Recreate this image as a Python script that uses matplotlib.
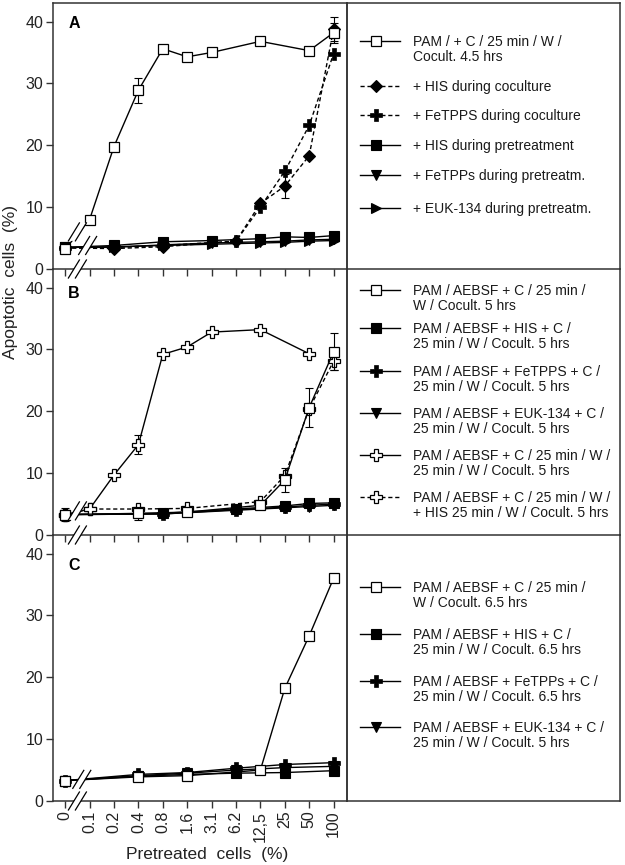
import numpy as np
import matplotlib
matplotlib.use("Agg")
import matplotlib.pyplot as plt

plt.rcParams['font.family'] = ['Liberation Sans', 'DejaVu Sans']

x_labels = ['0', '0.1', '0.2', '0.4', '0.8', '1.6', '3.1', '6.2', '12,5', '25', '50', '100']
pos = {lab: i for i, lab in enumerate(x_labels)}

# ---- panel A
a_ctrl_x = ['0', '0.1', '0.2', '0.4', '0.8', '1.6', '3.1', '12,5', '50', '100']
a_ctrl_y = [3.2, 8.0, 19.8, 28.9, 35.6, 34.3, 35.0, 36.8, 35.3, 38.2]
a_ctrl_err = [0, 0, 0, 2.0, 0, 0, 0, 0, 0, 1.6]
a_coc_x = ['0', '0.2', '0.8', '6.2', '12,5', '25', '50', '100']
a_his_coc_y = [3.4, 3.3, 3.6, 4.5, 10.6, 13.4, 18.3, 38.8]
a_his_coc_err = [0, 0, 0, 0, 0, 1.9, 0, 2.0]
a_fe_coc_y = [3.4, 3.5, 3.8, 4.5, 10.0, 15.8, 23.2, 34.8]
a_pre_x = ['0', '0.2', '0.8', '3.1', '12,5', '25', '50', '100']
a_his_pre_y = [3.5, 3.8, 4.4, 4.6, 4.9, 5.2, 5.1, 5.4]
a_fe_pre_y = [3.5, 3.5, 3.9, 4.2, 4.4, 4.5, 4.7, 4.8]
a_euk_pre_y = [3.5, 3.6, 3.8, 4.0, 4.2, 4.3, 4.5, 4.6]

# ---- panel B
b_ctrl_x = ['0', '0.4', '1.6', '12,5', '25', '50', '100']
b_ctrl_y = [3.3, 3.5, 3.7, 4.8, 8.9, 20.6, 29.6]
b_ctrl_err = [1.1, 1.1, 0.6, 0.6, 1.9, 3.2, 3.0]
b_inh_x = ['0', '0.8', '6.2', '25', '50', '100']
b_his_y = [3.3, 3.5, 4.2, 4.7, 5.1, 5.2]
b_fe_y = [3.3, 3.4, 4.1, 4.5, 4.8, 5.0]
b_euk_y = [3.3, 3.4, 4.0, 4.4, 4.6, 4.8]
b_wc_x = ['0', '0.1', '0.2', '0.4', '0.8', '1.6', '3.1', '12,5', '50']
b_wc_y = [3.3, 4.2, 9.7, 14.6, 29.2, 30.4, 32.8, 33.2, 29.3]
b_wc_err = [0, 0, 0, 1.5, 0, 0, 0, 0, 0]
b_wch_x = ['0', '0.1', '0.4', '1.6', '12,5', '25', '50', '100']
b_wch_y = [3.3, 4.2, 4.2, 4.3, 5.4, 9.6, 20.4, 28.1]
b_wch_err = [0, 0, 0, 0, 0, 0, 0, 1.5]

# ---- panel C
c_ctrl_x = ['0', '0.4', '1.6', '12,5', '25', '50', '100']
c_ctrl_y = [3.3, 3.9, 4.1, 5.0, 18.2, 26.7, 36.0]
c_inh_x = ['0', '0.4', '1.6', '6.2', '25', '100']
c_his_y = [3.3, 4.0, 4.3, 4.5, 4.6, 4.9]
c_fe_y = [3.3, 4.3, 4.6, 5.3, 5.9, 6.2]
c_euk_y = [3.3, 4.1, 4.5, 5.0, 5.4, 5.6]

legend_a = [('PAM / + C / 25 min / W /\nCocult. 4.5 hrs', 'wsq', '-'),
            ('+ HIS during coculture', 'dia', '--'),
            ('+ FeTPPS during coculture', 'crs', '--'),
            ('+ HIS during pretreatment', 'bsq', '-'),
            ('+ FeTPPs during pretreatm.', 'dtri', '-'),
            ('+ EUK-134 during pretreatm.', 'rtri', '-')]
legend_b = [('PAM / AEBSF + C / 25 min /\nW / Cocult. 5 hrs', 'wsq', '-'),
            ('PAM / AEBSF + HIS + C /\n25 min / W / Cocult. 5 hrs', 'bsq', '-'),
            ('PAM / AEBSF + FeTPPS + C /\n25 min / W / Cocult. 5 hrs', 'crs', '-'),
            ('PAM / AEBSF + EUK-134 + C /\n25 min / W / Cocult. 5 hrs', 'dtri', '-'),
            ('PAM / AEBSF + C / 25 min / W /\n25 min / W / Cocult. 5 hrs', 'wcrs', '-'),
            ('PAM / AEBSF + C / 25 min / W /\n+ HIS 25 min / W / Cocult. 5 hrs', 'wcrs', '--')]
legend_c = [('PAM / AEBSF + C / 25 min /\nW / Cocult. 6.5 hrs', 'wsq', '-'),
            ('PAM / AEBSF + HIS + C /\n25 min / W / Cocult. 6.5 hrs', 'bsq', '-'),
            ('PAM / AEBSF + FeTPPs + C /\n25 min / W / Cocult. 6.5 hrs', 'crs', '-'),
            ('PAM / AEBSF + EUK-134 + C /\n25 min / W / Cocult. 5 hrs', 'dtri', '-')]

MK = {
    'wsq': dict(marker='s', ms=7.5, mfc='white', mec='k', mew=0.9),
    'bsq': dict(marker='s', ms=7, mfc='k', mec='k', mew=0.8),
    'dia': dict(marker='D', ms=6.5, mfc='k', mec='k', mew=0.8),
    'crs': dict(marker='P', ms=8.5, mfc='k', mec='k', mew=0.5),
    'dtri': dict(marker='v', ms=7.5, mfc='k', mec='k', mew=0.8),
    'rtri': dict(marker='>', ms=7.5, mfc='k', mec='k', mew=0.8),
    'wcrs': dict(marker='P', ms=9, mfc='white', mec='k', mew=0.9),
}
DASH = (0, (3, 2))
SPINE = '#333333'


def series(ax, xs, ys, kind, ls='-', err=None, z=3):
    xx = [pos[v] for v in xs]
    style = DASH if ls == '--' else '-'
    if err is not None:
        e = np.array(err, dtype=float)
        m = e > 0
        ax.errorbar(np.array(xx)[m], np.array(ys)[m], yerr=e[m], fmt='none',
                    ecolor='k', elinewidth=0.8, capsize=3, capthick=0.8, zorder=z - 0.5)
    ax.plot(xx, ys, color='k', lw=1.0, linestyle=style, zorder=z, **MK[kind])


def brk(ax, xc, yc, gap=3.5, clip=True):
    cx, cy = ax.transData.transform((xc, yc))
    inv = ax.transData.inverted()
    dx, dy = 5.5, 9.0
    poly = inv.transform([(cx - gap - dx, cy - dy), (cx - gap + dx, cy + dy),
                          (cx + gap + dx, cy + dy), (cx + gap - dx, cy - dy)])
    ax.fill(poly[:, 0], poly[:, 1], color='white', zorder=8, clip_on=clip, lw=0)
    for k in (-1, 1):
        seg = inv.transform([(cx + k * gap - dx, cy - dy), (cx + k * gap + dx, cy + dy)])
        ax.plot(seg[:, 0], seg[:, 1], color='k', lw=0.9, zorder=9, clip_on=clip)


def legend(lax, entries, ys):
    lax.set_xlim(0, 273)
    lax.set_ylim(266, 0)
    lax.set_xticks([])
    lax.set_yticks([])
    for (txt, kind, ls), y in zip(entries, ys):
        style = DASH if ls == '--' else '-'
        lax.plot([13, 53], [y - 2, y - 2], color='k', lw=1.0, linestyle=style)
        lax.plot([29], [y - 2], linestyle='none', **MK[kind])
        lax.text(66, y - 8, txt, fontsize=10, va='top', ha='left',
                 linespacing=1.12, color='#1a1a1a')


fig = plt.figure(figsize=(6.25, 8.65), dpi=100)
W, H = 625, 865
L, R, LR = 53, 347, 620
tops = [3, 269, 535]
hp = 266
axes = []
laxes = []
for i, t in enumerate(tops):
    ax = fig.add_axes([L / W, 1 - (t + hp) / H, (R - L) / W, hp / H])
    lax = fig.add_axes([R / W, 1 - (t + hp) / H, (LR - R) / W, hp / H])
    for a in (ax, lax):
        a.patch.set_visible(False)
        for s in a.spines.values():
            s.set_color(SPINE)
            s.set_linewidth(1.1)
        if i > 0:
            a.spines['top'].set_visible(False)
    ax.set_xlim(-0.5, 11.55)
    ax.set_ylim(0, 43)
    ax.set_xticks(range(len(x_labels)))
    ax.set_yticks([0, 10, 20, 30, 40])
    ax.tick_params(direction='out', length=5, width=1, color=SPINE,
                   labelsize=11.5, labelcolor='#222222', pad=2)
    if i < 2:
        ax.set_xticklabels([])
    else:
        ax.set_xticklabels(x_labels, rotation=90)
    axes.append(ax)
    laxes.append(lax)

axA, axB, axC = axes

# panel A
series(axA, a_pre_x, a_euk_pre_y, 'rtri')
series(axA, a_pre_x, a_fe_pre_y, 'dtri')
series(axA, a_pre_x, a_his_pre_y, 'bsq')
series(axA, a_coc_x, a_fe_coc_y, 'crs', '--')
series(axA, a_coc_x, a_his_coc_y, 'dia', '--', err=a_his_coc_err)
series(axA, a_ctrl_x, a_ctrl_y, 'wsq', err=a_ctrl_err, z=5)

# panel B
series(axB, b_inh_x, b_euk_y, 'dtri')
series(axB, b_inh_x, b_fe_y, 'crs')
series(axB, b_inh_x, b_his_y, 'bsq')
series(axB, b_wch_x, b_wch_y, 'wcrs', '--', err=b_wch_err)
series(axB, b_wc_x, b_wc_y, 'wcrs', err=b_wc_err)
series(axB, b_ctrl_x, b_ctrl_y, 'wsq', err=b_ctrl_err, z=5)

# panel C
series(axC, c_inh_x, c_his_y, 'bsq')
series(axC, c_inh_x, c_euk_y, 'dtri')
series(axC, c_inh_x, c_fe_y, 'crs')
series(axC, c_ctrl_x, c_ctrl_y, 'wsq', z=5)

# axis breaks
brk(axA, 0.5, 6.0)
brk(axA, 0.92, 3.8)
brk(axB, 0.5, 3.9)
brk(axC, 0.68, 3.5)
for ax in axes:
    brk(ax, 0.5, 0, clip=False)

for ax, lab, yy in zip(axes, ['A', 'B', 'C'], [20, 25, 30]):
    ax.text(0.052, 1 - yy / hp, lab, transform=ax.transAxes, fontsize=11.5,
            fontweight='bold', va='center', ha='left')

legend(laxes[0], legend_a, [40, 85, 114, 144, 174, 207])
legend(laxes[1], legend_b, [23, 61, 104, 146, 188, 230])
legend(laxes[2], legend_c, [54, 101, 148, 194])

fig.text(11 / W, 1 - 282 / H, 'Apoptotic  cells  (%)', rotation=90, fontsize=12.5,
         ha='center', va='center', color='#222222')
fig.text(207 / W, 1 - 855 / H, 'Pretreated  cells  (%)', fontsize=12.5,
         ha='center', va='center', color='#222222')

fig.savefig('out.png', dpi=100, facecolor='white')
